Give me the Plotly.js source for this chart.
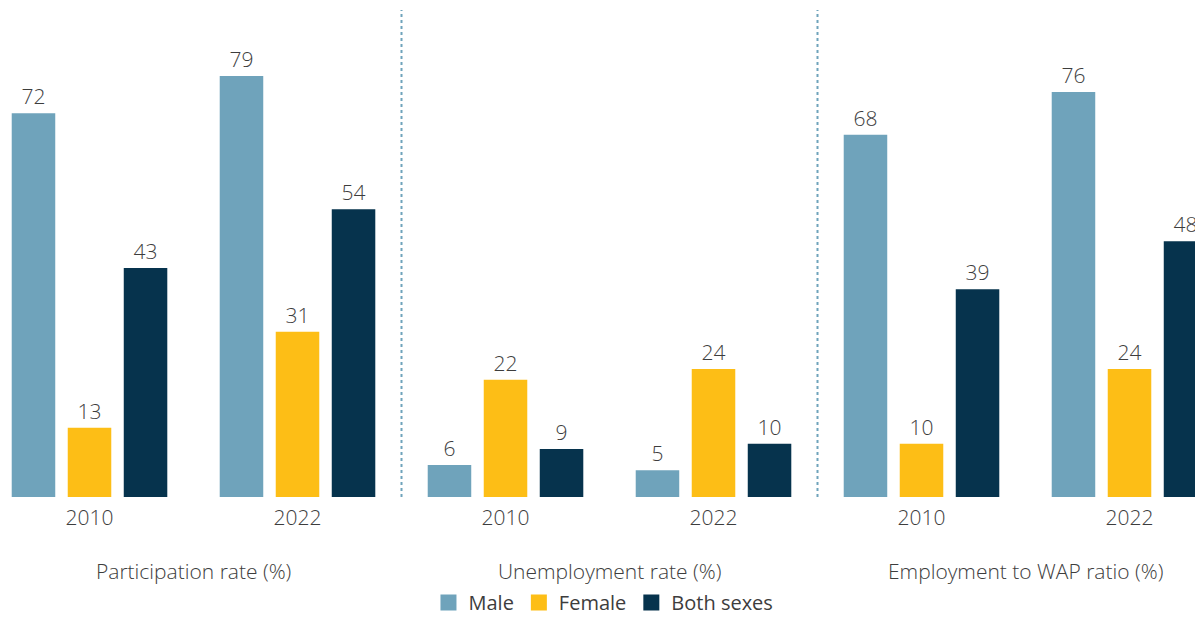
<!DOCTYPE html>
<html>
<head>
<meta charset="utf-8">
<script src="https://cdn.plot.ly/plotly-3.0.1.min.js"></script>
<style>html,body{margin:0;padding:0;background:#fff;}#chart{width:1195px;height:622px;}</style>
</head>
<body>
<div id="chart"></div>
<script>
// Data
const groupPositions = [0, 1, 2, 3, 4, 5];
const yearLabels = ["2010", "2022", "2010", "2022", "2010", "2022"];
const panelTitles = ["Participation rate (%)", "Unemployment rate (%)", "Employment to WAP ratio (%)"];
const panelCenters = [0.5, 2.5, 4.5];
const panelDividers = [1.5, 3.5];
const seriesNames = ["Male", "Female", "Both sexes"];
const male = [72, 79, 6, 5, 68, 76];
const female = [13, 31, 22, 24, 10, 24];
const both = [43, 54, 9, 10, 39, 48];
const colors = ["#6fa3bb", "#fdbe16", "#06334d"];

const FONT = "'Open Sans', 'Noto Sans', sans-serif";
const TXT = "#3d3d3d";
const series = [male, female, both];

const traces = [];
series.forEach((vals, i) => {
  traces.push({
    type: "bar",
    x: groupPositions,
    y: vals,
    name: seriesNames[i],
    showlegend: false,
    marker: {color: colors[i], line: {width: 0}},
    text: vals.map(v => String(v)),
    textposition: "outside",
    cliponaxis: false,
    textfont: {family: FONT, size: 21, color: TXT, weight: 300},
    hoverinfo: "skip"
  });
});
// legend entries
series.forEach((vals, i) => {
  traces.push({
    type: "scatter",
    mode: "markers",
    x: [null],
    y: [null],
    name: seriesNames[i],
    marker: {symbol: "square", size: 16, color: colors[i]},
    showlegend: true,
    hoverinfo: "skip"
  });
});

const plotTop = 10, plotBottom = 497, plotH = plotBottom - plotTop;
const yTop = 91.4;
const shapes = panelDividers.map(x => ({
  type: "line", xref: "x", yref: "y",
  x0: x, x1: x, y0: 0, y1: yTop,
  line: {color: "#6fa3bb", width: 2, dash: "dot"}
}));

const annotations = panelTitles.map((t, i) => ({
  text: t, x: panelCenters[i], xref: "x", y: (plotBottom - 571) / plotH, yref: "paper",
  showarrow: false, font: {family: FONT, size: 21, color: TXT, weight: 300},
  xanchor: "center", yanchor: "middle"
}));

const layout = {
  width: 1195, height: 622,
  margin: {l: 0, r: 0, t: plotTop, b: 622 - plotBottom, autoexpand: false},
  paper_bgcolor: "#fff", plot_bgcolor: "#fff",
  barmode: "group",
  bargap: 0.192,
  bargroupgap: 0.223,
  font: {family: FONT, color: TXT},
  xaxis: {
    range: [-0.4303, 5.3149],
    tickvals: groupPositions, ticktext: yearLabels,
    showgrid: false, zeroline: false, showline: false,
    ticks: "", ticklen: 0, ticklabelstandoff: 6,
    tickfont: {family: FONT, size: 21, color: TXT, weight: 300},
    fixedrange: true, automargin: false
  },
  yaxis: {
    range: [0, yTop], visible: false, showgrid: false, zeroline: false, fixedrange: true
  },
  showlegend: true,
  legend: {
    orientation: "h", x: 0.505, xanchor: "center",
    yref: "container", y: 0, yanchor: "bottom",
    font: {family: FONT, size: 20, color: TXT},
    itemwidth: 30, tracegroupgap: 0, traceorder: "normal",
    borderwidth: 0, bgcolor: "rgba(0,0,0,0)"
  },
  shapes: shapes,
  annotations: annotations
};

Plotly.newPlot("chart", traces, layout, {staticPlot: true, displayModeBar: false});
</script>
</body>
</html>
